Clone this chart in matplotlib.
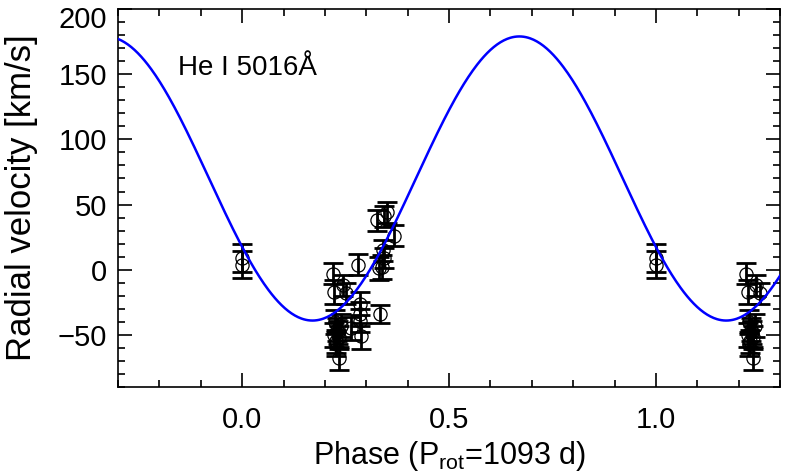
import numpy as np
import matplotlib
matplotlib.use('Agg')
import matplotlib.pyplot as plt
import matplotlib.transforms as mtransforms
from matplotlib.ticker import MultipleLocator

plt.rcParams['font.family'] = ['Liberation Sans', 'DejaVu Sans']
plt.rcParams['mathtext.fontset'] = 'custom'
plt.rcParams['mathtext.rm'] = 'Liberation Sans'

# Fase y velocidad radial medidas (He I 5016)
phase = [0.0, 0.0,
         0.219, 0.223, 0.243, 0.251, 0.279,
         0.284, 0.284, 0.284, 0.288, 0.264,
         0.225, 0.230, 0.222, 0.235, 0.228, 0.232, 0.240, 0.226, 0.235,
         0.334, 0.330, 0.337, 0.340, 0.342,
         0.327, 0.344, 0.350, 0.368]
rv = [9, 4,
      -3, -17, -12, -18, 4,
      -26, -34, -39, -51, -45,
      -40, -46, -50, -52, -55, -48, -43, -57, -68,
      -34, 1, 2, 15, 9,
      38, 41, 44, 26]
rv_err = [11, 10,
          8, 9, 8, 8, 8,
          9, 9, 9, 10, 9,
          9, 9, 9, 9, 9, 9, 9, 9, 9,
          7, 9, 9, 8, 8,
          8, 8, 8, 8]

# Ajuste sinusoidal
v0 = 70.0
amp = 109.0
phi_min = 0.17
p_rot = 1093

fig = plt.figure(figsize=(7.89, 4.73), dpi=100)
ax = fig.add_axes([0.1496, 0.1818, 0.839, 0.799])

x = np.array(phase)
y = np.array(rv)
e = np.array(rv_err)
# la copia en fase+1 solo se dibuja para las primeras fases
rep = x < 0.26
for xs, ys, es in ((x, y, e), (x[rep] + 1, y[rep], e[rep])):
    ax.errorbar(xs, ys, yerr=es, fmt='none', ecolor='black',
                elinewidth=2.0, capsize=7, capthick=2.0, zorder=2)
    ax.plot(xs, ys, 'o', mfc='none', mec='black', ms=9.5, mew=0.9, zorder=3)

xx = np.linspace(-0.3, 1.3, 600)
ax.plot(xx, v0 - amp * np.cos(2 * np.pi * (xx - phi_min)), color='#0000ff', lw=1.8, zorder=4)

ax.text(-0.155, 155, 'He I 5016Å', fontsize=20, va='center', ha='left')

ax.set_xlim(-0.3, 1.3)
ax.set_ylim(-90, 200)
ax.xaxis.set_minor_locator(MultipleLocator(0.1))
ax.yaxis.set_major_locator(MultipleLocator(50))
ax.yaxis.set_minor_locator(MultipleLocator(10))
ax.set_xticks([0.0, 0.5, 1.0])
ax.set_xticklabels(['0.0', '0.5', '1.0'])
ax.tick_params(which='both', direction='in', top=True, right=True, width=1.2)
ax.tick_params(which='major', length=10, labelsize=21)
ax.tick_params(axis='x', which='major', pad=14)
ax.tick_params(axis='y', which='major', pad=8)
ax.tick_params(which='minor', length=5)
for sp in ax.spines.values():
    sp.set_linewidth(1.2)

ax.set_xlabel(r'Phase (P$_{\mathregular{rot}}$=%d d)' % p_rot, fontsize=22, labelpad=3)
ax.set_ylabel('Radial velocity [km/s]', fontsize=25, labelpad=14)

# bajar un poco la etiqueta superior para que no se corte
fig.canvas.draw()
for lab in ax.get_yticklabels():
    if lab.get_text() == '200':
        lab.set_transform(lab.get_transform() +
                          mtransforms.ScaledTranslation(0, -6 / 72, fig.dpi_scale_trans))

fig.savefig('out.png', dpi=100)
